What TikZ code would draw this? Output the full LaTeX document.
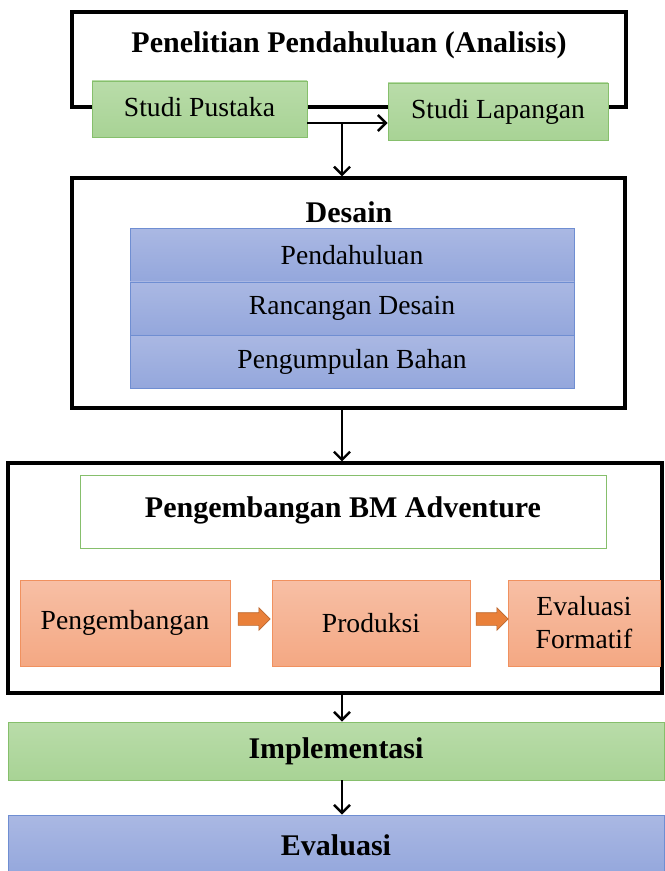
\documentclass[tikz,border=0pt]{standalone}
\usepackage{fontspec}
\setmainfont{Liberation Serif}
\usetikzlibrary{calc,shapes,arrows,arrows.meta,positioning}

\definecolor{grfill}{HTML}{A8D395}
\definecolor{grtop}{HTML}{B9DCA9}
\definecolor{grline}{HTML}{86BF6C}
\definecolor{blfill}{HTML}{94A7DC}
\definecolor{bltop}{HTML}{AAB8E3}
\definecolor{blline}{HTML}{6F8ED2}
\definecolor{orfill}{HTML}{F4A883}
\definecolor{ortop}{HTML}{F7BFA5}
\definecolor{orline}{HTML}{F0915F}
\definecolor{orarrow}{HTML}{E9803A}

\tikzset{
  txt/.style={font=\fontsize{13.8}{16.5}\selectfont},
  ttl/.style={font=\fontsize{15}{18}\selectfont\bfseries},
  frame/.style={draw=black,line width=1.6pt,inner sep=0pt},
  greenbox/.style={txt,draw=grline,top color=grtop,bottom color=grfill,inner sep=0pt},
  bluebox/.style={txt,draw=blline,top color=bltop,bottom color=blfill,inner sep=0pt},
  orangebox/.style={txt,draw=orline,top color=ortop,bottom color=orfill,inner sep=0pt,align=center},
  blockarrow/.style={single arrow,draw=orarrow!80!black,fill=orarrow,line width=0.3pt,
    minimum height=16pt,inner xsep=0pt,inner ysep=3pt,single arrow head extend=2.5pt},
  arr/.style={-{Straight Barb[length=4pt,width=8pt]},line width=1.2pt}
}

\begin{document}
\begin{tikzpicture}[x=0.5pt,y=-0.5pt]
\useasboundingbox (0,0) rectangle (664,871);

% Penelitian Pendahuluan
\draw[line width=1.6pt] (72,107) -- (72,12) -- (626,12) -- (626,107) -- cycle;
\node[ttl] (analisis) at (349,45) {Penelitian Pendahuluan (Analisis)};
\node[greenbox,minimum width=107.5pt,minimum height=28pt] (pustaka) at (199.5,109) {\raisebox{2pt}{Studi Pustaka}};
\node[greenbox,minimum width=110pt,minimum height=28.5pt] (lapangan) at (498,111.5) {Studi Lapangan};
\draw[arr] ([yshift=-7pt]pustaka.east) -- ([yshift=-7pt]pustaka.east -| lapangan.west);
\coordinate (fork) at (342,123);

% Desain
\node[frame,minimum width=276.5pt,minimum height=115pt] (desain) at (348.5,293) {};
\node[ttl] (desaintitle) at (349,212) {Desain};
\def\dsn{1/255/{Pendahuluan},2/308.5/{Rancangan Desain},3/361.5/{Pengumpulan Bahan}}
\foreach \i / \y / \element in \dsn
  \node[bluebox,minimum width=222pt,minimum height=26.5pt] (b\i) at (352,\y) {\element};
\draw[arr] (fork) -- (fork |- desain.north);

% Pengembangan BM Adventure
\node[frame,minimum width=327pt,minimum height=115pt] (bmframe) at (335,578) {};
\node[ttl,draw=grline,fill=white,minimum width=263pt,minimum height=36.5pt,inner sep=0pt] (bmtitle) at (343,511.5) {\raisebox{4pt}{Pengembangan BM Adventure}};
\node[orangebox,minimum width=105pt,minimum height=43pt] (o1) at (125,623) {Pengembangan};
\node[orangebox,minimum width=99pt,minimum height=43pt] (o2) at (371,623) {Produksi};
\node[orangebox,minimum width=76pt,minimum height=43pt] (o3) at (584,623) {Evaluasi\\Formatif};
\node[blockarrow] (a1) at ($(o1.east)!0.5!(o2.west)+(0,2pt)$) {};
\node[blockarrow] (a2) at ($(o2.east)!0.5!(o3.west)+(0,2pt)$) {};
\draw[arr] (fork |- desain.south) -- (fork |- bmframe.north);

% Implementasi, Evaluasi
\node[greenbox,ttl,minimum width=328pt,minimum height=29pt] (impl) at (336,751) {Implementasi};
\node[bluebox,ttl,minimum width=328pt,minimum height=30pt] (eval) at (336,845) {Evaluasi};
\draw[arr] (fork |- bmframe.south) -- (fork |- impl.north);
\draw[arr] (fork |- impl.south) -- (fork |- eval.north);

\end{tikzpicture}
\end{document}
